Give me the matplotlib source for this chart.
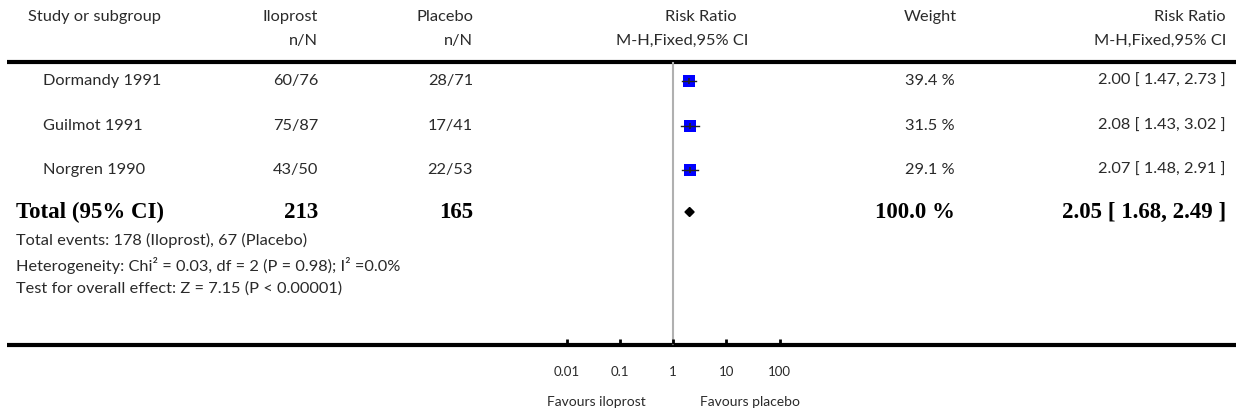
import matplotlib
matplotlib.use('Agg')
import matplotlib.pyplot as plt
import numpy as np
from matplotlib.patches import Polygon

# study data
studies = ['Dormandy 1991', 'Guilmot 1991', 'Norgren 1990']
ilo = ['60/76', '75/87', '43/50']
plac = ['28/71', '17/41', '22/53']
rr = [2.00, 2.08, 2.07]
lo = [1.47, 1.43, 1.48]
hi = [2.73, 3.02, 2.91]
weights = [39.4, 31.5, 29.1]

total_ilo, total_plac = 213, 165
total_rr, total_lo, total_hi = 2.05, 1.68, 2.49

ticks = [0.01, 0.1, 1, 10, 100]
tick_labels = ['0.01', '0.1', '1', '10', '100']

W, H = 1236, 415
fig = plt.figure(figsize=(W / 100, H / 100), dpi=100)
ax = fig.add_axes([0, 0, 1, 1])
ax.set_xlim(0, W)
ax.set_ylim(H, 0)
ax.axis('off')

sans = ['Lato', 'DejaVu Sans']
serif = ['Liberation Serif', 'DejaVu Serif']
txt = '#2a2a2a'
fs = 11.8


def t(x, y, s, ha='left', size=fs):
    ax.text(x, y, s, family=sans, fontsize=size, color=txt, va='center', ha=ha)


def tb(x, y, s, ha='left'):
    ax.text(x, y, s, family=serif, fontsize=16.5, weight='bold', color='black', va='center', ha=ha)


# headers
t(28, 17, 'Study or subgroup')
t(318, 17, 'Iloprost', 'right')
t(473, 17, 'Placebo', 'right')
t(701, 17, 'Risk Ratio', 'center')
t(957, 17, 'Weight', 'right')
t(1226, 17, 'Risk Ratio', 'right')
t(318, 41, 'n/N', 'right')
t(473, 41, 'n/N', 'right')
t(682, 41, 'M-H,Fixed,95% CI', 'center')
t(1226, 41, 'M-H,Fixed,95% CI', 'right')

# thick rules
ax.plot([7, W], [62, 62], color='black', lw=3, solid_capstyle='butt')
ax.plot([7, W], [345, 345], color='black', lw=3, solid_capstyle='butt')

row_y = [81, 126, 170]
for i, name in enumerate(studies):
    y = row_y[i]
    t(43, y, name)
    t(318, y, ilo[i], 'right')
    t(473, y, plac[i], 'right')
    t(955, y, '%.1f %%' % weights[i], 'right')
    t(1226, y, '%.2f [ %.2f, %.2f ]' % (rr[i], lo[i], hi[i]), 'right')

ty = 212
tb(16, ty, 'Total (95% CI)')
tb(318, ty, str(total_ilo), 'right')
tb(473, ty, str(total_plac), 'right')
tb(955, ty, '100.0 %', 'right')
tb(1226, ty, '%.2f [ %.2f, %.2f ]' % (total_rr, total_lo, total_hi), 'right')

t(16, 240, 'Total events: 178 (Iloprost), 67 (Placebo)')
t(16, 265, 'Heterogeneity: Chi² = 0.03, df = 2 (P = 0.98); I² =0.0%')
t(16, 289, 'Test for overall effect: Z = 7.15 (P < 0.00001)')

# forest panel (log scale), same pixel y
fx0, fx1 = 566.5, 779.5
fa = fig.add_axes([fx0 / W, 0, (fx1 - fx0) / W, 1])
fa.set_xscale('log')
fa.set_xlim(0.01, 100)
fa.set_ylim(H, 0)
fa.axis('off')

fa.plot([1, 1], [63, 344], color='#b0b0b0', lw=1.5, clip_on=False)
for i in range(len(studies)):
    y = row_y[i]
    side = 2.07 * np.sqrt(weights[i]) * 0.72
    fa.scatter([rr[i]], [y], marker='s', s=side ** 2, color='#0000ff', lw=0, zorder=3, clip_on=False)
    fa.plot([lo[i], hi[i]], [y, y], color='#222222', lw=1, zorder=4, clip_on=False)
    fa.plot([rr[i]], [y], marker='|', color='#222222', ms=4, mew=1.2, zorder=4)

dh = 4.5
fa.add_patch(Polygon([(total_lo, ty), (total_rr, ty - dh), (total_hi, ty), (total_rr, ty + dh)],
                     closed=True, color='black', zorder=3, clip_on=False))

for v, lab in zip(ticks, tick_labels):
    fa.plot([v, v], [339, 344], color='black', lw=2, clip_on=False, solid_capstyle='butt')
    fa.text(v, 372, lab, family=sans, fontsize=9.5, color=txt, va='center',
            ha='center', clip_on=False)

t(596, 402, 'Favours iloprost', 'center', 10)
t(750, 402, 'Favours placebo', 'center', 10)

fig.savefig('out.png', dpi=100)
